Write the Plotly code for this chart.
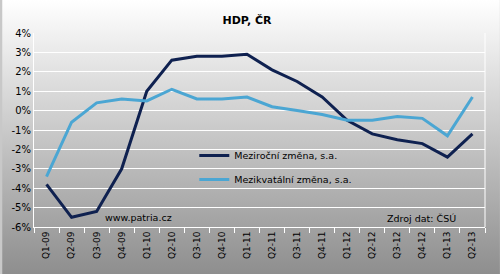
import plotly.graph_objects as go

categories = ["Q1-09", "Q2-09", "Q3-09", "Q4-09", "Q1-10", "Q2-10", "Q3-10", "Q4-10",
              "Q1-11", "Q2-11", "Q3-11", "Q4-11", "Q1-12", "Q2-12", "Q3-12", "Q4-12",
              "Q1-13", "Q2-13"]
mezirocni = [-3.8, -5.5, -5.2, -3.0, 1.0, 2.6, 2.8, 2.8, 2.9, 2.1, 1.5, 0.7,
             -0.5, -1.2, -1.5, -1.7, -2.4, -1.2]
mezikvartalni = [-3.4, -0.6, 0.4, 0.6, 0.5, 1.1, 0.6, 0.6, 0.7, 0.2, 0.0, -0.2,
                 -0.5, -0.5, -0.3, -0.4, -1.3, 0.7]
y_ticks = [4, 3, 2, 1, 0, -1, -2, -3, -4, -5, -6]
y_labels = [f"{v}%" for v in y_ticks]

W, H = 500, 274
ML, MR, MT, MB = 32, 15, 33, 47
PW, PH = W - ML - MR, H - MT - MB

svg = ("data:image/svg+xml;utf8,<svg xmlns='http://www.w3.org/2000/svg' width='500' height='274'>"
       "<defs><linearGradient id='g' x1='0' y1='0' x2='0' y2='1'>"
       "<stop offset='0' stop-color='%23ffffff'/><stop offset='1' stop-color='%238e8e8e'/>"
       "</linearGradient></defs><rect width='500' height='274' fill='url(%23g)'/></svg>")

font = "Verdana, DejaVu Sans, sans-serif"

fig = go.Figure()
fig.add_trace(go.Scatter(x=categories, y=mezirocni, mode="lines",
                         name="Meziroční změna, s.a.", legendgroup="a",
                         line=dict(color="#0f2150", width=3)))
fig.add_trace(go.Scatter(x=categories, y=mezikvartalni, mode="lines",
                         name="Mezikvatální změna, s.a.", legendgroup="b",
                         line=dict(color="#4ba6d3", width=3)))

fig.update_layout(
    width=W, height=H,
    margin=dict(l=ML, r=MR, t=MT, b=MB, pad=0),
    paper_bgcolor="#c8c8c8",
    plot_bgcolor="rgba(0,0,0,0)",
    images=[dict(source=svg, xref="paper", yref="paper",
                 x=-ML / PW, y=1 + MT / PH, sizex=W / PW, sizey=H / PH,
                 xanchor="left", yanchor="top", sizing="stretch", layer="below")],
    title=dict(text="<b>HDP, ČR</b>", x=0.494, xanchor="center", y=1 - 20 / H,
               yanchor="middle", font=dict(family=font, size=11, color="black")),
    showlegend=True,
    legend=dict(x=(193 - ML) / PW, y=1 - (141 - MT) / PH, xanchor="left", yanchor="top",
                bgcolor="rgba(0,0,0,0)", font=dict(family=font, size=9.5, color="black"),
                tracegroupgap=5, itemwidth=30),
    font=dict(family=font, size=9, color="black"),
    xaxis=dict(type="category", range=[-0.5, 17.5], showgrid=False,
               tickson="boundaries", ticks="outside", ticklen=5, tickcolor="white",
               tickwidth=1, showline=True, linecolor="white", linewidth=1,
               mirror=False, tickangle=-90, tickfont=dict(family=font, size=9),
               fixedrange=True),
    yaxis=dict(range=[-6, 4], tickvals=y_ticks, ticktext=y_labels,
               showgrid=True, gridcolor="white", gridwidth=1, zeroline=False,
               showline=True, linecolor="white", linewidth=1, ticks="",
               tickfont=dict(family=font, size=10), fixedrange=True),
    shapes=[dict(type="line", xref="paper", yref="paper", x0=1, x1=1, y0=0, y1=1,
                 line=dict(color="white", width=1))],
    annotations=[
        dict(text="www.patria.cz", xref="paper", yref="paper",
             x=(137 - ML) / PW, y=1 - (217 - MT) / PH, xanchor="center",
             yanchor="middle", showarrow=False,
             font=dict(family=font, size=9.5, color="black")),
        dict(text="Zdroj dat: ČSÚ", xref="paper", yref="paper",
             x=(421 - ML) / PW, y=1 - (218 - MT) / PH, xanchor="center",
             yanchor="middle", showarrow=False,
             font=dict(family=font, size=9.5, color="black")),
    ],
)

fig.write_html("out.html")
